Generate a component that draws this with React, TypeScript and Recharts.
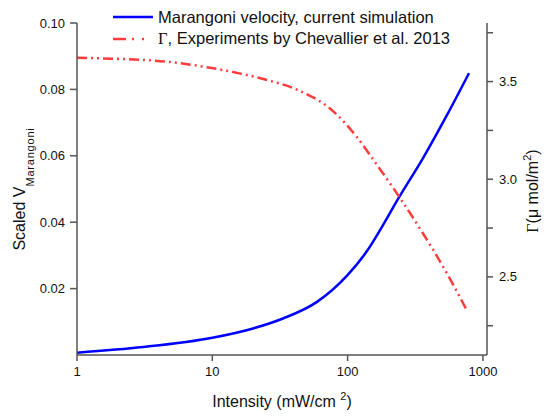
import { LineChart, Line, XAxis, YAxis, Legend, Label } from 'recharts';

// Marangoni velocity (blue, left axis)
const blueIntensity = [1, 3.08, 10, 20, 33.3, 59.4, 99, 139, 183, 236, 361, 543, 789];
const blueVelocity = [0.0007, 0.0024, 0.0052, 0.008, 0.011, 0.016, 0.0239, 0.0313, 0.0392, 0.047, 0.0593, 0.0723, 0.0849];

// surface excess, Chevallier et al. (red, right axis)
const redIntensity = [1, 1.48, 4.6, 8.5, 14.2, 25.4, 44.5, 78, 117, 165, 244, 361, 543, 763];
const redGamma = [3.622, 3.619, 3.602, 3.577, 3.549, 3.508, 3.452, 3.349, 3.216, 3.073, 2.904, 2.722, 2.517, 2.327];

const xTicks = [1, 10, 100, 1000];
const leftTicks = [0.02, 0.04, 0.06, 0.08, 0.1];
const rightTicks = [2.25, 2.5, 2.75, 3, 3.25, 3.5, 3.75];

const velocityData = blueIntensity.map((x, i) => ({ x, v: blueVelocity[i] }));
const gammaData = redIntensity.map((x, i) => ({ x, g: redGamma[i] }));

const FONT = '"Liberation Sans", Arial, Helvetica, sans-serif';
const AXIS = '#555';
const INK = '#111';

function LeftTitle({ viewBox }: any) {
  const cx = viewBox.x + 25;
  const cy = viewBox.y + viewBox.height / 2;
  return (
    <text x={cx} y={cy} transform={`rotate(-90, ${cx}, ${cy})`} textAnchor="middle" fontSize={16} fill={INK} fontFamily={FONT}>
      Scaled V<tspan fontSize={11} dy={9} letterSpacing={0.8}>Marangoni</tspan>
    </text>
  );
}

function RightTitle({ viewBox }: any) {
  const cx = viewBox.x + 51;
  const cy = viewBox.y + viewBox.height / 2 + 2;
  return (
    <text x={cx} y={cy} transform={`rotate(-90, ${cx}, ${cy})`} textAnchor="middle" fontSize={16} fill={INK} fontFamily={FONT}>
      <tspan fontFamily="'Liberation Serif', serif">Γ</tspan>(μ mol/m<tspan fontSize={11} dy={-7}>2</tspan><tspan dy={7}>)</tspan>
    </text>
  );
}

function BottomTitle({ viewBox }: any) {
  const cx = viewBox.x + viewBox.width / 2;
  const cy = viewBox.y + 52;
  return (
    <text x={cx} y={cy} textAnchor="middle" fontSize={16} fill={INK} fontFamily={FONT}>
      Intensity (mW/cm <tspan fontSize={11} dy={-7}>2</tspan><tspan dy={7}>)</tspan>
    </text>
  );
}

function renderLegend({ payload }: any) {
  return (
    <div style={{ fontFamily: FONT, fontSize: 16.5, color: INK }}>
      {(payload || []).map((entry: any) => {
        const name: string = entry.value;
        const dash = entry.payload?.strokeDasharray ? '13 6 2 8 2 20' : undefined;
        return (
          <div key={name} style={{ display: 'flex', alignItems: 'center', height: 22, whiteSpace: 'nowrap' }}>
            <svg width={48} height={22} style={{ display: 'block' }}>
              <line x1={3} y1={11} x2={43} y2={11} stroke={entry.color} strokeWidth={2.5} strokeDasharray={dash} />
            </svg>
            <span>
              {name.startsWith('Γ') ? (
                <>
                  <span style={{ fontFamily: "'Liberation Serif', serif" }}>Γ</span>
                  {name.slice(1)}
                </>
              ) : (
                name
              )}
            </span>
          </div>
        );
      })}
    </div>
  );
}

export default function App() {
  return (
    <div style={{ position: 'absolute', left: 0, top: 0, background: '#fff' }}>
      <LineChart width={550} height={418} margin={{ top: 23, right: 0, bottom: 0, left: 0 }} style={{ fontFamily: FONT }}>
        <XAxis
          dataKey="x"
          type="number"
          scale="log"
          domain={[1, 1072]}
          allowDataOverflow
          ticks={xTicks}
          height={63}
          tickSize={6}
          tickMargin={6}
          stroke={AXIS}
          strokeWidth={1.5}
          tick={{ fontSize: 13, fill: INK }}
        >
          <Label content={BottomTitle} />
        </XAxis>
        <YAxis
          yAxisId="left"
          orientation="left"
          type="number"
          domain={[0, 0.1]}
          ticks={leftTicks}
          width={77}
          tickSize={7}
          tickMargin={5}
          stroke={AXIS}
          strokeWidth={1.5}
          tick={{ fontSize: 13, fill: INK }}
          tickFormatter={(v: number) => v.toFixed(2)}
        >
          <Label content={LeftTitle} />
        </YAxis>
        <YAxis
          yAxisId="right"
          orientation="right"
          type="number"
          domain={[2.1, 3.8]}
          allowDataOverflow
          ticks={rightTicks}
          width={63}
          tickSize={6}
          tickMargin={6}
          stroke={AXIS}
          strokeWidth={1.5}
          tick={{ fontSize: 13, fill: INK }}
          tickFormatter={(v: number) => ((v * 2) % 1 === 0 ? v.toFixed(1) : '')}
        >
          <Label content={RightTitle} />
        </YAxis>
        <Legend
          layout="vertical"
          align="center"
          verticalAlign="middle"
          content={renderLegend}
          wrapperStyle={{ top: 6, left: 110, width: 'auto' }}
        />
        <Line
          data={velocityData}
          dataKey="v"
          yAxisId="left"
          name="Marangoni velocity, current simulation"
          type="monotone"
          stroke="#0000ff"
          strokeWidth={2.5}
          dot={false}
          activeDot={false}
          isAnimationActive={false}
        />
        <Line
          data={gammaData}
          dataKey="g"
          yAxisId="right"
          name="Γ, Experiments by Chevallier et al. 2013"
          type="monotone"
          stroke="#ff3c3c"
          strokeWidth={2.5}
          strokeDasharray="10 4 2 4 2 4"
          dot={false}
          activeDot={false}
          isAnimationActive={false}
        />
      </LineChart>
    </div>
  );
}
